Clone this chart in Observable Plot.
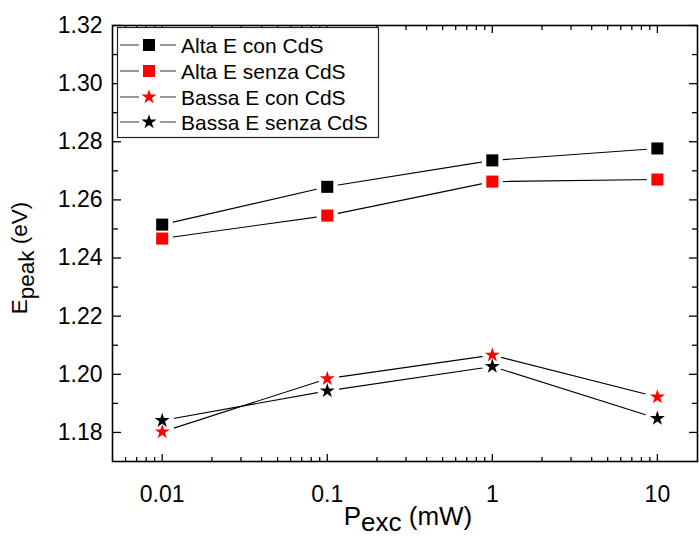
<!DOCTYPE html>
<html><head><meta charset="utf-8">
<script src="https://cdn.jsdelivr.net/npm/d3@7"></script>
<script src="https://cdn.jsdelivr.net/npm/@observablehq/plot@0.6"></script>
<style>body{margin:0;background:#fff}</style>
</head><body><div id="chart"></div>
<script>
// ---- data ----
const power = [0.01, 0.1, 1, 10];
const altaCon = [1.2515, 1.2645, 1.2736, 1.2777];
const altaSenza = [1.2467, 1.2546, 1.2663, 1.2670];
const bassaCon = [1.1802, 1.1985, 1.2066, 1.1922];
const bassaSenza = [1.1841, 1.1943, 1.2027, 1.1848];
const seriesNames = ["Alta E con CdS", "Alta E senza CdS", "Bassa E con CdS", "Bassa E senza CdS"];
const seriesValues = [altaCon, altaSenza, bassaCon, bassaSenza];
const seriesColors = ["#000000", "#ff0000", "#ff0000", "#000000"];
const seriesSymbols = ["square", "square", "star", "star"];
const xMajor = [0.01, 0.1, 1, 10];
const xTickLabels = ["0.01", "0.1", "1", "10"];
const xMinor = [0.006,0.007,0.008,0.009,0.02,0.03,0.04,0.05,0.06,0.07,0.08,0.09,0.2,0.3,0.4,0.5,0.6,0.7,0.8,0.9,2,3,4,5,6,7,8,9];
const yMajor = [1.18, 1.20, 1.22, 1.24, 1.26, 1.28, 1.30, 1.32];
const yMinor = [1.19, 1.21, 1.23, 1.25, 1.27, 1.29, 1.31];

const rows = [];
seriesNames.forEach((s, i) => power.forEach((p, j) => rows.push({series: s, p, e: seriesValues[i][j], sym: seriesSymbols[i]})));
const squares = rows.filter(d => d.sym === "square");
const stars = rows.filter(d => d.sym === "star");

const W = 699, H = 538, ML = 112, MR = 2, MT = 25, MB = 77;
const font = "Liberation Sans, Arial, Helvetica, sans-serif";
const blank = () => "";
const tk = {tickFormat: blank, label: null, strokeWidth: 1.3};

const plot = Plot.plot({
  width: W, height: H,
  marginLeft: ML, marginRight: MR, marginTop: MT, marginBottom: MB,
  style: {fontFamily: font, color: "black", background: "white"},
  x: {type: "log", domain: [0.005, 17.5]},
  y: {domain: [1.17, 1.32]},
  color: {domain: seriesNames, range: seriesColors},
  symbol: {domain: seriesNames, range: seriesSymbols},
  marks: [
    Plot.line(rows, {x: "p", y: "e", z: "series", stroke: "black", strokeWidth: 1.1}),
    Plot.dot(squares, {x: "p", y: "e", symbol: "series", r: 6.8, fill: "white", stroke: "white", strokeWidth: 9}),
    Plot.dot(stars, {x: "p", y: "e", symbol: "series", r: 4.7, fill: "white", stroke: "white", strokeWidth: 9, strokeLinejoin: "round"}),
    Plot.dot(squares, {x: "p", y: "e", symbol: "series", r: 6.8, fill: "series", stroke: null}),
    Plot.dot(stars, {x: "p", y: "e", symbol: "series", r: 4.7, fill: "series", stroke: null}),
    // tick labels
    Plot.axisX(xMajor, {anchor: "bottom", tickSize: 0, tickPadding: 24, tickFormat: d => xTickLabels[xMajor.indexOf(d)], fontSize: 23, label: null}),
    Plot.axisY(yMajor, {anchor: "left", tickSize: 0, tickPadding: 10, tickFormat: d => d.toFixed(2), fontSize: 23, label: null}),
    // inward ticks (opposite anchor drawn at the frame edge)
    Plot.axisX(xMajor, {anchor: "top", frameAnchor: "bottom", tickSize: 8, ...tk}),
    Plot.axisX(xMinor, {anchor: "top", frameAnchor: "bottom", tickSize: 5, ...tk}),
    Plot.axisX(xMajor, {anchor: "bottom", frameAnchor: "top", tickSize: 8, ...tk}),
    Plot.axisX(xMinor, {anchor: "bottom", frameAnchor: "top", tickSize: 5, ...tk}),
    Plot.axisY(yMajor, {anchor: "right", frameAnchor: "left", tickSize: 8, ...tk}),
    Plot.axisY(yMinor, {anchor: "right", frameAnchor: "left", tickSize: 5, ...tk}),
    Plot.axisY(yMajor, {anchor: "left", frameAnchor: "right", tickSize: 8, ...tk}),
    Plot.axisY(yMinor, {anchor: "left", frameAnchor: "right", tickSize: 5, ...tk}),
    Plot.frame({stroke: "black", strokeWidth: 1.6})
  ]
});
document.getElementById("chart").appendChild(plot);

const svg = d3.select(plot);
// axis titles with subscripts
const xt = svg.append("text").attr("x", 408).attr("y", 525).attr("text-anchor", "middle")
  .attr("font-family", font).attr("font-size", 26).attr("fill", "black");
xt.append("tspan").text("P");
xt.append("tspan").attr("dy", 6).text("exc");
xt.append("tspan").attr("dy", -6).text(" (mW)");

const yt = svg.append("text").attr("transform", "translate(27,258) rotate(-90)").attr("text-anchor", "middle")
  .attr("font-family", font).attr("font-size", 22.5).attr("fill", "black");
yt.append("tspan").text("E");
yt.append("tspan").attr("dy", 7).text("peak");
yt.append("tspan").attr("dy", -7).text(" (eV)");

// legend
const lg = svg.append("g");
lg.append("rect").attr("x", 117.5).attr("y", 27.5).attr("width", 261).attr("height", 110)
  .attr("fill", "white").attr("stroke", "#222").attr("stroke-width", 1.2);
const rowY = [45, 71, 97, 122];
seriesNames.forEach((s, i) => {
  const y = rowY[i];
  lg.append("line").attr("x1", 120).attr("x2", 139).attr("y1", y).attr("y2", y).attr("stroke", "#333").attr("stroke-width", 1);
  lg.append("line").attr("x1", 160).attr("x2", 176).attr("y1", y).attr("y2", y).attr("stroke", "#333").attr("stroke-width", 1);
  const isSq = seriesSymbols[i] === "square";
  const r = isSq ? 6.8 : 4.7;
  const sym = d3.symbol(isSq ? d3.symbolSquare : d3.symbolStar, r * r * Math.PI);
  lg.append("path").attr("d", sym()).attr("transform", `translate(149,${y})`).attr("fill", seriesColors[i]);
  lg.append("text").attr("x", 181).attr("y", y).attr("dy", "0.36em").attr("text-anchor", "start")
    .attr("font-family", font).attr("font-size", 21).attr("fill", "black").text(s);
});
</script>
</body></html>
